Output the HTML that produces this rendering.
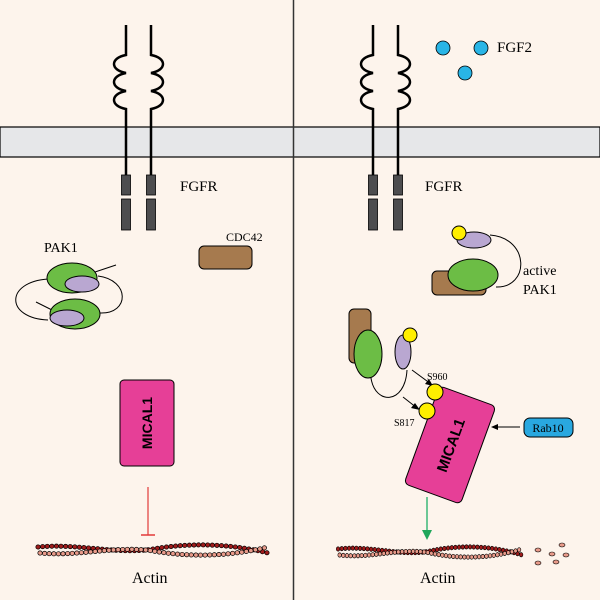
<!DOCTYPE html>
<html><head><style>body{margin:0;background:#fdf4ec}svg{display:block}text{font-family:"Liberation Serif",serif}</style></head><body>
<svg width="600" height="600" viewBox="0 0 600 600" xmlns="http://www.w3.org/2000/svg">
<rect width="600" height="600" fill="#fdf4ec"/>
<rect x="0" y="127" width="600" height="30" fill="#e6e7e9" stroke="#000" stroke-width="1.2"/>
<line x1="293.5" y1="0" x2="293.5" y2="600" stroke="#333" stroke-width="1.5"/>
<defs>
<g id="recL">
<path d="M0,25 V55 c-16,3 -16,15 0,18 c-16,3 -16,15 0,18 c-16,3 -16,15 0,18 V178" fill="none" stroke="#000" stroke-width="2.5"/>
<rect x="-4.5" y="175" width="9" height="20" fill="#4d4d4f" stroke="#000" stroke-width="0.8"/>
<rect x="-4.5" y="199" width="9" height="31" fill="#4d4d4f" stroke="#000" stroke-width="0.8"/>
</g>
<g id="recR">
<path d="M0,25 V55 c16,3 16,15 0,18 c16,3 16,15 0,18 c16,3 16,15 0,18 V178" fill="none" stroke="#000" stroke-width="2.5"/>
<rect x="-4.5" y="175" width="9" height="20" fill="#4d4d4f" stroke="#000" stroke-width="0.8"/>
<rect x="-4.5" y="199" width="9" height="31" fill="#4d4d4f" stroke="#000" stroke-width="0.8"/>
</g>
<g id="actin">
<path d="M0,4 C40,0 80,12 115,6 S190,0 230,10" fill="none" stroke="#000" stroke-width="5" stroke-dasharray="0.1 4.5" stroke-linecap="round"/>
<path d="M0,4 C40,0 80,12 115,6 S190,0 230,10" fill="none" stroke="#a01c1c" stroke-width="3.6" stroke-dasharray="0.1 4.5" stroke-linecap="round"/>
<path d="M2,10 C40,14 80,2 115,8 S190,14 230,4" fill="none" stroke="#000" stroke-width="5" stroke-dasharray="0.1 4.5" stroke-linecap="round"/>
<path d="M2,10 C40,14 80,2 115,8 S190,14 230,4" fill="none" stroke="#e89a8a" stroke-width="3.6" stroke-dasharray="0.1 4.5" stroke-linecap="round"/>
</g>
</defs>
<use href="#recL" x="126"/><use href="#recR" x="151"/>
<use href="#recL" x="373"/><use href="#recR" x="398"/>
<text x="180" y="191" font-size="15">FGFR</text>
<text x="425" y="191" font-size="15">FGFR</text>
<circle cx="443" cy="48" r="7" fill="#29b5e6" stroke="#000" stroke-width="0.8"/>
<circle cx="481" cy="48" r="7" fill="#29b5e6" stroke="#000" stroke-width="0.8"/>
<circle cx="465" cy="73" r="7" fill="#29b5e6" stroke="#000" stroke-width="0.8"/>
<text x="497" y="52" font-size="15">FGF2</text>
<text x="44" y="252" font-size="14">PAK1</text>
<path d="M48,279 C5,282 5,318 48,320" fill="none" stroke="#000"/>
<path d="M98,276 C130,280 130,314 100,313" fill="none" stroke="#000"/>
<line x1="95" y1="272" x2="116" y2="265" stroke="#000"/>
<line x1="36" y1="302" x2="52" y2="310" stroke="#000"/>
<ellipse cx="72" cy="278" rx="25" ry="15" fill="#6cbd45" stroke="#000"/>
<ellipse cx="82" cy="284" rx="17" ry="8" fill="#b9a7d1" stroke="#000"/>
<ellipse cx="75" cy="314" rx="25" ry="15" fill="#6cbd45" stroke="#000"/>
<ellipse cx="67" cy="318" rx="17" ry="8" fill="#b9a7d1" stroke="#000"/>
<text x="226" y="241" font-size="12">CDC42</text>
<rect x="199" y="246" width="53" height="23" rx="5" fill="#a67a4e" stroke="#000"/>
<rect x="120" y="380" width="54" height="86" rx="4" fill="#e63f97" stroke="#000"/>
<text transform="translate(152,423) rotate(-90)" text-anchor="middle" font-weight="bold" font-size="14" style="font-family:'Liberation Sans',sans-serif">MICAL1</text>
<line x1="148" y1="487" x2="148" y2="535" stroke="#e23a3a" stroke-width="1.2"/>
<line x1="141" y1="535" x2="155" y2="535" stroke="#e23a3a" stroke-width="1.5"/>
<use href="#actin" x="38" y="543"/>
<text x="132" y="583" font-size="16">Actin</text>
<path d="M490,235 C530,238 530,288 496,287" fill="none" stroke="#000"/>
<rect x="432" y="271" width="54" height="24" rx="5" fill="#a67a4e" stroke="#000"/>
<ellipse cx="473" cy="275" rx="25" ry="16" fill="#6cbd45" stroke="#000"/>
<ellipse cx="474" cy="240" rx="17" ry="8" fill="#b9a7d1" stroke="#000"/>
<circle cx="459" cy="233" r="7" fill="#ffef00" stroke="#000"/>
<text x="523" y="275" font-size="14">active</text>
<text x="523" y="294" font-size="14">PAK1</text>
<rect x="349" y="309" width="22" height="54" rx="5" fill="#a67a4e" stroke="#000"/>
<ellipse cx="368" cy="354" rx="14" ry="24" fill="#6cbd45" stroke="#000"/>
<ellipse cx="403" cy="352" rx="8" ry="17" fill="#b9a7d1" stroke="#000"/>
<circle cx="410" cy="335" r="7" fill="#ffef00" stroke="#000"/>
<path d="M371,378 C375,405 405,405 407,370" fill="none" stroke="#000"/>
<line x1="412" y1="370" x2="431" y2="384" stroke="#000"/>
<polygon points="433,386 425,384 429,379" fill="#000"/>
<line x1="403" y1="397" x2="417" y2="408" stroke="#000"/>
<polygon points="420,410 411,408 415,403" fill="#000"/>
<g transform="translate(450,445) rotate(20)">
<rect x="-30" y="-52" width="60" height="104" rx="5" fill="#e63f97" stroke="#000"/>
<text transform="rotate(-90)" x="0" y="6" text-anchor="middle" font-weight="bold" font-size="15" style="font-family:'Liberation Sans',sans-serif">MICAL1</text>
</g>
<circle cx="435" cy="392" r="8" fill="#ffef00" stroke="#000"/>
<circle cx="427" cy="411" r="8" fill="#ffef00" stroke="#000"/>
<text x="427" y="380" font-size="10">S960</text>
<text x="394" y="426" font-size="10">S817</text>
<line x1="493" y1="427" x2="520" y2="427" stroke="#000"/>
<polygon points="491,427 498,424 498,430" fill="#000"/>
<rect x="524" y="418" width="49" height="19" rx="6" fill="#29a8e0" stroke="#000"/>
<text x="548" y="432" text-anchor="middle" font-size="12">Rab10</text>
<line x1="427" y1="497" x2="427" y2="532" stroke="#3cb878" stroke-width="1.5"/>
<polygon points="422,530 432,530 427,540" fill="#1fa65a"/>
<use href="#actin" transform="translate(338,545) scale(0.8,1)"/>
<g fill="#e89a8a" stroke="#000" stroke-width="0.6">
<ellipse cx="538" cy="550" rx="3" ry="2"/><ellipse cx="552" cy="554" rx="3" ry="2"/><ellipse cx="562" cy="545" rx="3" ry="2"/>
<ellipse cx="566" cy="555" rx="3" ry="2"/><ellipse cx="538" cy="563" rx="3" ry="2"/><ellipse cx="556" cy="562" rx="3" ry="2"/>
</g>
<text x="420" y="583" font-size="16">Actin</text>
</svg>
</body></html>
